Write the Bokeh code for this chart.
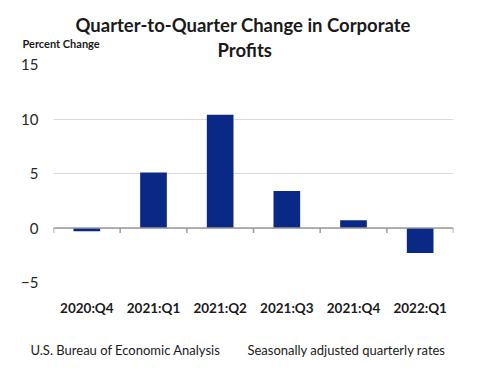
from bokeh.plotting import figure
from bokeh.models import Range1d, FixedTicker, Title, ColumnDataSource
from bokeh.embed import file_html
from bokeh.resources import INLINE

categories = ["2020:Q4", "2021:Q1", "2021:Q2", "2021:Q3", "2021:Q4", "2022:Q1"]
values = [-0.3, 5.1, 10.4, 3.4, 0.7, -2.3]
y_ticks = [-5, 0, 5, 10, 15]

FONT = "Lato"
n = len(categories)
centers = [i + 0.5 for i in range(n)]

W, H = 500, 380
p = figure(width=W, height=H, output_backend="svg", toolbar_location=None,
           x_range=Range1d(0, n), y_range=Range1d(-5, 15),
           min_border_left=53, min_border_right=47, min_border_top=64,
           min_border_bottom=98)
p.outline_line_color = None
p.background_fill_color = "white"

src = ColumnDataSource(dict(x=centers, top=values, cat=categories))
p.vbar(x="x", top="top", bottom=0, width=0.4, source=src,
       fill_color="#0a2885", line_color=None)

bounds = list(range(n + 1))
p.segment(x0=[0], y0=[0], x1=[n], y1=[0], line_color="#9a9a9a", line_width=1.5)
p.segment(x0=bounds, y0=[0] * len(bounds), x1=bounds, y1=[-0.45] * len(bounds),
          line_color="#9a9a9a", line_width=1.5)

p.xgrid.grid_line_color = None
p.ygrid.grid_line_color = "#d9d9d9"
p.ygrid.ticker = FixedTicker(ticks=y_ticks)

p.yaxis.ticker = FixedTicker(ticks=y_ticks)
p.yaxis.axis_line_color = None
p.yaxis.major_tick_line_color = None
p.yaxis.minor_tick_line_color = None
p.yaxis.major_label_text_font = FONT
p.yaxis.major_label_text_font_size = "15px"
p.yaxis.major_label_text_color = "#262626"
p.yaxis.major_label_standoff = 9

p.xaxis.ticker = FixedTicker(ticks=centers)
p.xaxis.major_label_overrides = {c: lab for c, lab in zip(centers, categories)}
p.xaxis.axis_line_color = None
p.xaxis.major_tick_line_color = None
p.xaxis.minor_tick_line_color = None
p.xaxis.major_label_text_font = FONT
p.xaxis.major_label_text_font_size = "13.5px"
p.xaxis.major_label_text_font_style = "bold"
p.xaxis.major_label_text_color = "#1a1a1a"
p.xaxis.major_label_standoff = 11

def add_title(text, side, size, bold=False, offset=0, standoff=0):
    p.add_layout(Title(text=text, text_font=FONT, text_font_size=size,
                       text_font_style="bold" if bold else "normal",
                       align="left", offset=offset, standoff=standoff,
                       text_color="#1a1a1a"), side)

# above panels, from the frame outward
add_title("Profits", "above", "18.5px", bold=True, offset=164, standoff=7)
add_title("Quarter-to-Quarter Change in Corporate", "above", "18.5px", bold=True,
          offset=22, standoff=-5)
add_title("Percent Change", "above", "11px", bold=True, offset=-31, standoff=-71)

# footer, below the x axis
footer_left = "U.S. Bureau of Economic Analysis"
footer_right = "Seasonally adjusted quarterly rates"
add_title(footer_left + "\u2003\u2003\u2002\u2009" + footer_right, "below", "13px",
          offset=-23, standoff=42)

open("out.html", "w").write(file_html(p, INLINE))
